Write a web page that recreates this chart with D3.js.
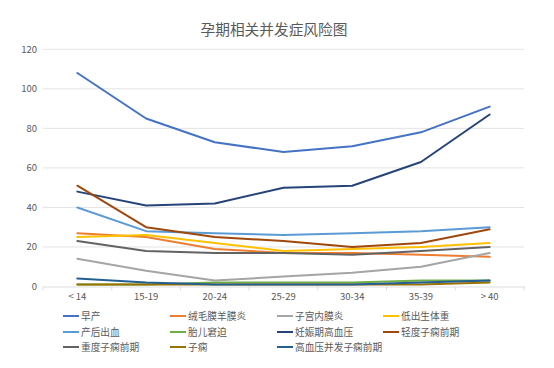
<!DOCTYPE html>
<html><head><meta charset="utf-8">
<script src="https://cdn.jsdelivr.net/npm/d3@7/dist/d3.min.js"></script>
<style>body{margin:0;background:#fff;}svg{display:block;font-family:"Noto Sans CJK SC","DejaVu Sans",sans-serif;}</style>
</head><body><svg id="c" width="554" height="368"></svg>
<script>
const categories = ["< 14","15-19","20-24","25-29","30-34","35-39","> 40"];
const seriesNames = ["早产","绒毛膜羊膜炎","子宫内膜炎","低出生体重","产后出血","胎儿窘迫","妊娠期高血压","轻度子痫前期","重度子痫前期","子痫","高血压并发子痫前期"];
const seriesColors = ["#4472C4","#ED7D31","#A5A5A5","#FFC000","#5B9BD5","#70AD47","#264478","#9E480E","#636363","#997300","#255E91"];
const v_zaochan = [108,85,73,68,71,78,91];
const v_rongmo = [27,25,19,17,17,16,15];
const v_zigong = [14,8,3,5,7,10,17];
const v_dichusheng = [25,26,22,18,19,20,22];
const v_chanhou = [40,28,27,26,27,28,30];
const v_taier = [1,1,2,2,2,3,3];
const v_renshen = [48,41,42,50,51,63,87];
const v_qingdu = [51,30,25,23,20,22,29];
const v_zhongdu = [23,18,17,17,16,18,20];
const v_zixian = [1,1,1,1,1,1,2];
const v_gaoxueya = [4,2,1,1,1,2,3];
const seriesValues = [v_zaochan,v_rongmo,v_zigong,v_dichusheng,v_chanhou,v_taier,v_renshen,v_qingdu,v_zhongdu,v_zixian,v_gaoxueya];
const yTicks = [0,20,40,60,80,100,120];

const svg = d3.select("#c");
const L = 43, R = 524, T = 49.3, B = 286.5;
const x = d3.scaleBand().domain(categories).range([L,R]);
const y = d3.scaleLinear().domain([0,120]).range([B,T]);

svg.append("text").attr("x",274).attr("y",35).attr("text-anchor","middle")
  .attr("font-size",14.7).attr("fill","#595959").text("孕期相关并发症风险图");

// gridlines
svg.append("g").selectAll("line").data(yTicks.filter(d=>d>0)).join("line")
  .attr("x1",L).attr("x2",R).attr("y1",d=>y(d)).attr("y2",d=>y(d))
  .attr("stroke","#D9D9D9").attr("stroke-width",0.75);

// y labels
svg.append("g").selectAll("text").data(yTicks).join("text")
  .attr("x",37).attr("y",d=>y(d)+3.5).attr("text-anchor","end")
  .attr("font-size",9.5).attr("fill","#595959").text(d=>d);

// x axis
const xAxis = d3.axisBottom(x).tickSize(0).tickPadding(7);
const gx = svg.append("g").attr("transform",`translate(0,${B})`).call(xAxis);
gx.select(".domain").attr("stroke","#D9D9D9").attr("stroke-width",0.9);
gx.selectAll("text").attr("font-size",9.5).attr("fill","#595959").attr("font-family",'"Noto Sans CJK SC","DejaVu Sans",sans-serif');
// category boundary ticks
const bounds = categories.map(c=>x(c)).concat([R]);
svg.append("g").selectAll("line").data(bounds).join("line")
  .attr("x1",d=>d).attr("x2",d=>d).attr("y1",B).attr("y2",B+4)
  .attr("stroke","#D9D9D9").attr("stroke-width",0.9);

const line = d3.line().x((d,i)=>x(categories[i])+x.bandwidth()/2).y(d=>y(d));
svg.append("g").selectAll("path").data(seriesValues).join("path")
  .attr("d",d=>line(d)).attr("fill","none")
  .attr("stroke",(d,i)=>seriesColors[i]).attr("stroke-width",2)
  .attr("stroke-linejoin","round").attr("stroke-linecap","round");

// legend
const colX = [63,170,277,383];
const rowY = [316,332,347];
const lg = svg.append("g").selectAll("g").data(seriesNames).join("g")
  .attr("transform",(d,i)=>`translate(${colX[i%4]},${rowY[Math.floor(i/4)]})`);
lg.append("line").attr("x1",0).attr("x2",16).attr("y1",0).attr("y2",0)
  .attr("stroke",(d,i)=>seriesColors[i]).attr("stroke-width",2);
lg.append("text").attr("x",18).attr("y",3.6).attr("font-size",9.7).attr("fill","#595959").text(d=>d);
</script></body></html>
